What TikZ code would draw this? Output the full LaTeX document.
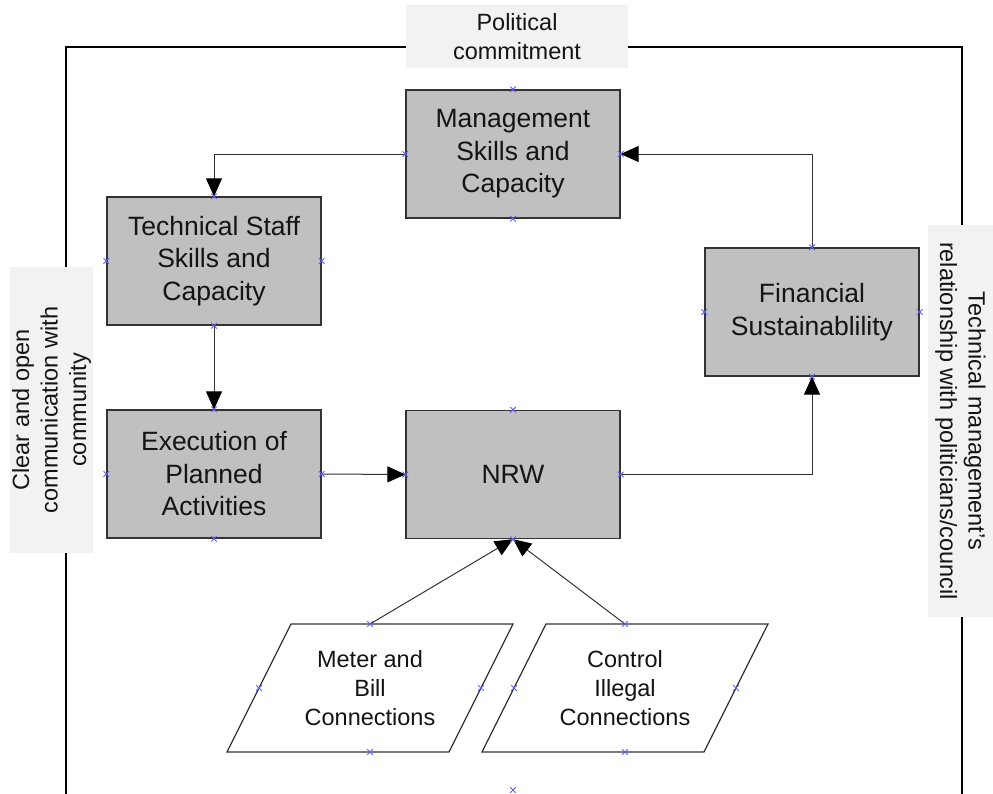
\documentclass[tikz,border=0pt]{standalone}
\usepackage{fontspec}
\setmainfont{Liberation Sans}
\usetikzlibrary{arrows.meta}
\definecolor{boxgray}{HTML}{C0C0C0}
\definecolor{lblgray}{HTML}{F2F2F2}
\definecolor{edge}{HTML}{333333}
\definecolor{cpblue}{HTML}{6060F0}
\definecolor{ink}{HTML}{141414}
\begin{document}
\begin{tikzpicture}[x=1pt,y=-1pt,
  stepbox/.style={draw=edge, line width=1.3pt, fill=boxgray, minimum width=214pt, minimum height=128pt, inner sep=0pt, align=center, text=ink, font=\fontsize{26.5}{32.5}\selectfont},
  ptext/.style={inner sep=0pt, align=center, text=ink, font=\fontsize{23.5}{29}\selectfont},
  lbl/.style={fill=lblgray, inner sep=0pt, align=center, text=ink, font=\fontsize{23.5}{28.5}\selectfont},
  conn/.style={draw=edge, line width=1pt, -{Triangle[length=18pt,width=16pt,color=black]}},
  frame/.style={draw=black, line width=1.2pt},
  para/.style={draw=edge, line width=1.2pt, fill=white},
  cpx/.pic={\draw[cpblue, line width=0.9pt] (-2.8,-2.8)--(2.8,2.8) (-2.8,2.8)--(2.8,-2.8);}
]
\useasboundingbox (0,0) rectangle (993,793);

% outer frame
\coordinate (fbl) at (66,800);
\coordinate (ftl) at (66,47);
\coordinate (ftr) at (962,47);
\coordinate (fbr) at (962,800);
\draw[frame] (fbl) -- (ftl) -- (ftr) -- (fbr);

% side labels
\node[lbl, minimum width=222pt, minimum height=63pt] (pol) at (517,36.5) {Political\\commitment};
\node[lbl, minimum width=286pt, minimum height=83pt, rotate=90] (comm) at (51.5,410) {Clear and open\\communication with\\community};
\node[lbl, minimum width=392pt, minimum height=65pt, rotate=-90] (tmr) at (960.5,421) {Technical management's\\relationship with politicians/council};

% main boxes
\node[stepbox] (mgmt) at (513,154) {Management\\Skills and\\Capacity};
\node[stepbox] (tech) at (214,261) {Technical Staff\\Skills and\\Capacity};
\node[stepbox] (exec) at (214,474) {Execution of\\Planned\\Activities};
\node[stepbox] (nrw) at (513,474.5) {NRW};
\node[stepbox] (fin) at (812,312) {Financial\\Sustainablility};

% parallelograms
\draw[para] (291,624) -- (513,624) -- (449,752) -- (227,752) -- cycle;
\node[ptext] (meter) at (370,688) {Meter and\\Bill\\Connections};
\coordinate (metertop) at (370,624);
\draw[para] (546,624) -- (768,624) -- (704,752) -- (482,752) -- cycle;
\node[ptext] (ctrl) at (625,688) {Control\\Illegal\\Connections};
\coordinate (ctrltop) at (625,624);

% connectors
\draw[conn] (mgmt.west) -| (tech.north);
\draw[conn] (fin.north) |- (mgmt.east);
\draw[conn] (tech.south) -- (exec.north);
\draw[conn] (exec.east) -- (nrw.west);
\draw[conn] (nrw.east) -| (fin.south);
\draw[conn] (metertop) -- (nrw.south);
\draw[conn] (ctrltop) -- (nrw.south);

% connection point markers
\foreach \n in {mgmt,tech,exec,nrw,fin}
  \foreach \a in {north,south,east,west}
    \pic at (\n.\a) {cpx};
\foreach \p in {(370,624),(259,688),(481,688),(370,752),(625,624),(514,688),(736,688),(625,752),(513,790)}
  \pic at \p {cpx};
\end{tikzpicture}
\end{document}
